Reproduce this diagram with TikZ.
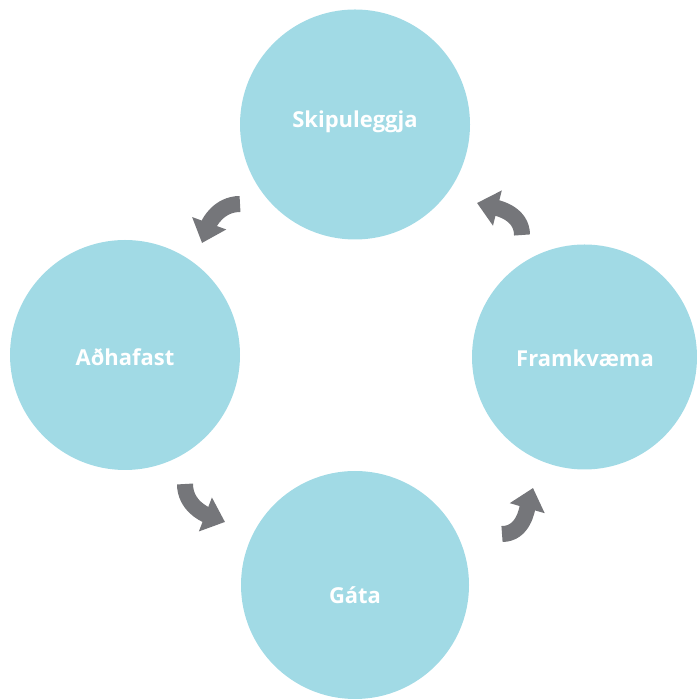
\documentclass[tikz,border=0pt]{standalone}
\usepackage{fontspec}
\setsansfont{Open Sans}
\usetikzlibrary{arrows.meta}
\definecolor{ringblue}{HTML}{A1DAE5}
\definecolor{turngray}{HTML}{75767A}

\begin{document}
\begin{tikzpicture}[
    stagetext/.style={text=white,font=\sffamily\bfseries\fontsize{6.25}{7}\selectfont},
    turn/.style={draw=turngray,line width=0.16cm,
      -{Triangle[length=0.21cm,width=0.35cm,fill=turngray]}}]
    \useasboundingbox (0,0) rectangle (6.97,6.99);

    \fill[ringblue] (3.55,5.745) circle (1.15)
      (1.25,3.44) circle (1.15)
      (5.845,3.42) circle (1.125)
      (3.55,1.14) circle (1.14);

    \node[stagetext] (plan) at (3.55,5.77) {Skipuleggja};
    \node[stagetext] (act) at (1.25,3.42) {Aðhafast};
    \node[stagetext] (check) at (3.55,1.04) {Gáta};
    \node[stagetext] (do) at (5.85,3.41) {Framkvæma};

    \coordinate (p1) at (2.40,4.95); \coordinate (q1) at (2.02,4.56);
    \coordinate (p2) at (5.22,4.64); \coordinate (q2) at (4.77,4.96);
    \coordinate (p3) at (1.85,2.15); \coordinate (q3) at (2.25,1.77);
    \coordinate (p4) at (5.02,1.65); \coordinate (q4) at (5.33,2.11);

    \draw[turn] (p1) to[out=180,in=70] (q1);
    \draw[turn] (p3) to[out=270,in=159] (q3);
    \draw[turn] (p4) to[out=0,in=254] (q4);
    \draw[turn] (p2) to[out=90,in=-14] (q2);
\end{tikzpicture}
\end{document}
